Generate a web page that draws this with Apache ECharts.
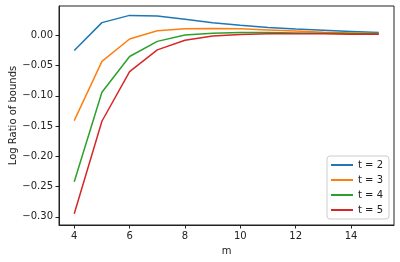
<!DOCTYPE html>
<html><head><meta charset="utf-8">
<script src="https://cdn.jsdelivr.net/npm/echarts@6/dist/echarts.min.js"></script>
<style>html,body{margin:0;padding:0;background:#fff}#c{width:400px;height:262px}</style>
</head><body><div id="c"></div>
<script>
const mValues = [4,5,6,7,8,9,10,11,12,13,14,15];
const t2 = [-0.025,0.021,0.033,0.032,0.0265,0.021,0.0165,0.013,0.0105,0.0085,0.0065,0.0045];
const t3 = [-0.141,-0.043,-0.006,0.0075,0.011,0.0115,0.011,0.009,0.007,0.005,0.004,0.003];
const t4 = [-0.242,-0.094,-0.035,-0.010,0.0005,0.0035,0.0045,0.0045,0.004,0.0035,0.003,0.0025];
const t5 = [-0.295,-0.142,-0.060,-0.024,-0.008,-0.001,0.0015,0.0025,0.0025,0.0025,0.002,0.002];
const seriesNames = ['t = 2','t = 3','t = 4','t = 5'];
const xTicks = [4,6,8,10,12,14];
const yTicks = [-0.30,-0.25,-0.20,-0.15,-0.10,-0.05,0.00];
const colors = ['#1f77b4','#ff7f0e','#2ca02c','#d62728'];
const allSeries = [t2,t3,t4,t5];
const font = 'DejaVu Sans';
const chart = echarts.init(document.getElementById('c'), null, {renderer:'canvas'});
chart.setOption({
  animation:false,
  color: colors,
  grid:{left:59,top:6,right:6,bottom:37,containLabel:false,outerBoundsMode:'none',show:true,borderColor:'#222',borderWidth:1,backgroundColor:'transparent'},
  xAxis:{type:'value',min:3.45,max:15.55,name:'m',nameLocation:'middle',nameGap:21,nameMoveOverlap:false,
    nameTextStyle:{fontFamily:font,fontSize:10,color:'#222'},
    splitLine:{show:false},
    axisLine:{show:true,onZero:false,lineStyle:{color:'#222',width:1}},
    axisTick:{show:true,customValues:xTicks,length:3.5,lineStyle:{color:'#222'}},
    axisLabel:{customValues:xTicks,fontFamily:font,fontSize:10,color:'#222',margin:6}},
  yAxis:{type:'value',min:-0.3135,max:0.0485,name:'Log Ratio of bounds',nameLocation:'middle',nameGap:41,nameMoveOverlap:false,
    nameTextStyle:{fontFamily:font,fontSize:10,color:'#222'},
    splitLine:{show:false},
    axisLine:{show:true,onZero:false,lineStyle:{color:'#222',width:1}},
    axisTick:{show:true,customValues:yTicks,length:3.5,lineStyle:{color:'#222'}},
    axisLabel:{customValues:yTicks,fontFamily:font,fontSize:10,color:'#222',margin:6,
      formatter:v=>v.toFixed(2).replace('-','\u2212')}},
  legend:{orient:'vertical',right:11,bottom:43,
    data:seriesNames,
    itemWidth:22,itemHeight:2,itemGap:5,
    icon:'rect',
    padding:[4,6,4,4],
    borderColor:'#ccc',borderWidth:1,borderRadius:3,backgroundColor:'rgba(255,255,255,0.8)',
    textStyle:{fontFamily:font,fontSize:10,color:'#222'}},
  series: allSeries.map((d,i)=>({name:seriesNames[i],type:'line',symbol:'none',
    lineStyle:{width:1.5},data:mValues.map((m,j)=>[m,d[j]])}))
});
</script></body></html>
